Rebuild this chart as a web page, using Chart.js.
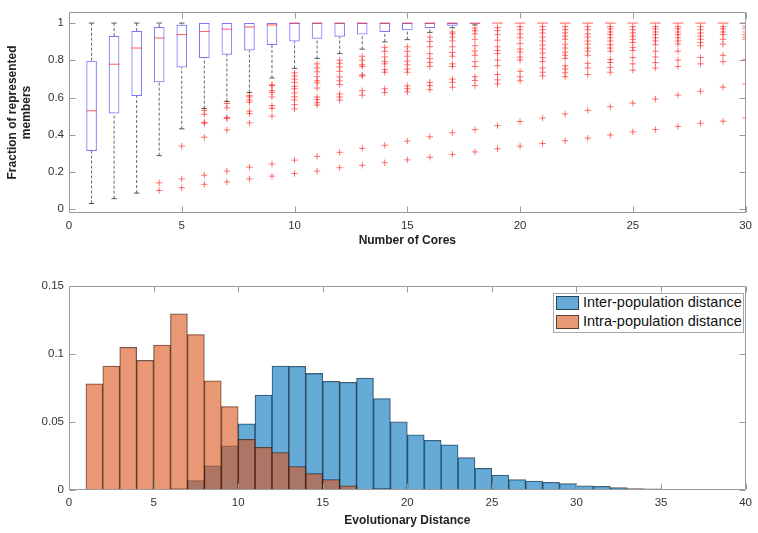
<!DOCTYPE html>
<html>
<head>
<meta charset="utf-8">
<script src="https://cdn.jsdelivr.net/npm/chart.js@4.4.1/dist/chart.umd.min.js"></script>
<style>
html,body{margin:0;padding:0;background:#fff;}
#wrap{position:relative;width:758px;height:533px;overflow:hidden;}
#c1{position:absolute;left:0;top:0;}
#c2{position:absolute;left:0;top:255px;}
#legend{position:absolute;left:553px;top:293px;width:189px;height:38px;border:1px solid #a8a8a8;background:#fff;
  font-family:"Liberation Sans",Arial,sans-serif;font-size:14.5px;color:#111;z-index:2;}
#legend .row{position:absolute;left:2px;height:15px;line-height:15px;white-space:nowrap;}
#legend .sw{position:absolute;left:0;top:0;width:23px;height:14px;border:1px solid rgba(0,0,0,0.6);box-sizing:border-box;}
#legend .tx{position:absolute;left:27px;top:-1px;}
</style>
</head>
<body>
<div id="wrap">
  <canvas id="c1" width="758" height="255"></canvas>
  <canvas id="c2" width="758" height="278"></canvas>
  <div id="legend">
    <div class="row" style="top:2px;"><span class="sw" style="background:rgb(102,170,215);"></span><span class="tx">Inter-population distance</span></div>
    <div class="row" style="top:21px;"><span class="sw" style="background:rgb(232,152,117);"></span><span class="tx">Intra-population distance</span></div>
  </div>
</div>
<script>
// ---------- Top panel: box plot data ----------
const cores = [1,2,3,4,5,6,7,8,9,10,11,12,13,14,15,16,17,18,19,20,21,22,23,24,25,26,27,28,29,30];
const q1 = [0.313,0.514,0.608,0.682,0.762,0.812,0.830,0.853,0.882,0.901,0.916,0.926,0.938,0.952,0.961,0.973,0.986,0.997,1,1,1,1,1,1,1,1,1,1,1,1];
const medians = [0.529,0.779,0.866,0.920,0.938,0.955,0.967,0.979,0.990,1,1,1,1,1,1,1,1,1,1,1,1,1,1,1,1,1,1,1,1,1];
const q3 = [0.798,0.930,0.957,0.979,0.991,1,1,1,1,1,1,1,1,1,1,1,1,1,1,1,1,1,1,1,1,1,1,1,1,1];
const whiskerLow = [0.031,0.057,0.087,0.288,0.432,0.541,0.579,0.627,0.705,0.757,0.810,0.836,0.860,0.899,0.911,0.950,0.975,0.990,1,1,1,1,1,1,1,1,1,1,1,1];
const whiskerHigh = [1,1,1,1,1,1,1,1,1,1,1,1,1,1,1,1,1,1,1,1,1,1,1,1,1,1,1,1,1,1];
const outliers = [
  [], [], [],
  [0.142,0.101],
  [0.339,0.163,0.116],
  [0.531,0.510,0.467,0.462,0.387,0.183,0.134],
  [0.568,0.545,0.493,0.488,0.426,0.205,0.147],
  [0.610,0.603,0.587,0.575,0.527,0.514,0.464,0.226,0.163],
  [0.668,0.664,0.637,0.628,0.603,0.556,0.541,0.500,0.243,0.178],
  [0.733,0.716,0.699,0.682,0.659,0.647,0.625,0.604,0.587,0.562,0.539,0.264,0.192],
  [0.781,0.759,0.738,0.712,0.690,0.678,0.651,0.603,0.589,0.572,0.560,0.284,0.205],
  [0.801,0.784,0.764,0.741,0.711,0.690,0.670,0.620,0.603,0.586,0.306,0.223],
  [0.822,0.801,0.776,0.767,0.721,0.716,0.637,0.613,0.327,0.236],
  [0.870,0.848,0.818,0.793,0.781,0.750,0.736,0.647,0.627,0.344,0.250],
  [0.873,0.848,0.822,0.796,0.776,0.753,0.736,0.663,0.647,0.630,0.366,0.265],
  [0.925,0.901,0.873,0.836,0.810,0.788,0.767,0.682,0.664,0.642,0.389,0.279],
  [0.952,0.942,0.925,0.904,0.873,0.842,0.822,0.781,0.767,0.699,0.682,0.656,0.411,0.295],
  [0.973,0.959,0.942,0.913,0.878,0.850,0.827,0.793,0.767,0.712,0.692,0.664,0.428,0.308],
  [0.976,0.959,0.938,0.908,0.873,0.853,0.836,0.801,0.771,0.724,0.695,0.673,0.449,0.325],
  [0.981,0.964,0.942,0.921,0.890,0.861,0.844,0.818,0.801,0.741,0.712,0.690,0.471,0.339],
  [0.981,0.964,0.947,0.925,0.904,0.882,0.861,0.839,0.815,0.793,0.759,0.736,0.716,0.490,0.353],
  [0.981,0.964,0.947,0.930,0.913,0.887,0.866,0.844,0.827,0.810,0.771,0.753,0.733,0.712,0.512,0.368],
  [0.981,0.964,0.942,0.925,0.904,0.887,0.866,0.849,0.827,0.784,0.759,0.724,0.531,0.382],
  [0.981,0.969,0.952,0.938,0.921,0.904,0.884,0.866,0.849,0.805,0.788,0.762,0.736,0.551,0.399],
  [0.981,0.964,0.947,0.930,0.913,0.896,0.870,0.853,0.815,0.781,0.747,0.570,0.416],
  [0.981,0.969,0.952,0.938,0.921,0.904,0.884,0.849,0.818,0.788,0.759,0.592,0.428],
  [0.981,0.969,0.952,0.938,0.921,0.904,0.887,0.849,0.801,0.767,0.613,0.445],
  [0.981,0.964,0.947,0.930,0.913,0.896,0.878,0.815,0.781,0.634,0.462],
  [0.981,0.969,0.952,0.938,0.913,0.887,0.827,0.793,0.656,0.473],
  [0.981,0.969,0.952,0.938,0.925,0.913,0.805,0.673,0.490]
];
const topXTicks = [0,5,10,15,20,25,30];
const topYTicks = [0,0.2,0.4,0.6,0.8,1];

// ---------- Bottom panel: histogram data (bins of width 1 starting at binStart) ----------
const binStart = [1,2,3,4,5,6,7,8,9,10,11,12,13,14,15,16,17,18,19,20,21,22,23,24,25,26,27,28,29,30,31,32,33,34,35,36,37];
const interPop = [null,null,null,null,0.0003,0.0010,0.0069,0.0177,0.0324,0.0487,0.0698,0.0912,0.0910,0.0857,0.0799,0.0791,0.0823,0.0673,0.0501,0.0405,0.0366,0.0332,0.0238,0.0160,0.0110,0.0076,0.0066,0.0057,0.0047,0.0030,0.0027,0.0017,0.0010,0.0009,0.0005,0.0004,0.0003];
const intraPop = [0.0781,0.0912,0.1049,0.0953,0.1066,0.1295,0.1143,0.0803,0.0614,0.0373,0.0314,0.0275,0.0172,0.0120,0.0076,0.0030,0.0003,0.0010,0.0002,0.0003,null,null,null,null,null,null,null,null,null,null,null,null,null,null,null,null,null];
const botXTicks = [0,5,10,15,20,25,30,35,40];
const botYTicks = [0,0.05,0.1,0.15];

Chart.defaults.font.family = '"Liberation Sans", Arial, sans-serif';
Chart.defaults.color = '#333';

const FRAME = '#9a9a9a';
const axesFrame = {
  id: 'axesFrame',
  afterDatasetsDraw(chart) {
    const {ctx, chartArea: a} = chart;
    const xs = chart.scales.x, ys = chart.scales.y;
    const L = Math.round(a.left) + 0.5, R = Math.round(a.right) - 0.5;
    const T = Math.round(a.top) + 0.5, B = Math.round(a.bottom) - 0.5;
    const tl = 6;
    ctx.save();
    ctx.strokeStyle = FRAME;
    ctx.lineWidth = 1;
    ctx.beginPath();
    ctx.moveTo(L, T); ctx.lineTo(R, T); ctx.lineTo(R, B); ctx.lineTo(L, B); ctx.closePath();
    xs.ticks.forEach(t => {
      const px = Math.round(xs.getPixelForValue(t.value)) + 0.5;
      ctx.moveTo(px, B); ctx.lineTo(px, B - tl);
      ctx.moveTo(px, T); ctx.lineTo(px, T + tl);
    });
    ys.ticks.forEach(t => {
      const py = Math.round(ys.getPixelForValue(t.value)) + 0.5;
      ctx.moveTo(L, py); ctx.lineTo(L + tl, py);
      ctx.moveTo(R, py); ctx.lineTo(R - tl, py);
    });
    ctx.stroke();
    ctx.restore();
  }
};

const fmt = v => String(+Number(v).toFixed(2));
const tickFont = {size: 11.5};
const titleFont = {size: 12, weight: 'bold'};

// ---------- Top chart ----------
const boxData = cores.map((c, i) => ({x: c, y: [q1[i], q3[i]]}));
const medData = cores.map((c, i) => ({x: c, y: medians[i]}));
const whiskerPts = [];
const capPts = [];
cores.forEach((c, i) => {
  if (whiskerHigh[i] > q3[i]) {
    whiskerPts.push({x: c, y: q3[i]}, {x: c, y: whiskerHigh[i]}, {x: c, y: null});
    capPts.push({x: c, y: whiskerHigh[i]});
  }
  if (whiskerLow[i] < q1[i]) {
    whiskerPts.push({x: c, y: whiskerLow[i]}, {x: c, y: q1[i]}, {x: c, y: null});
    capPts.push({x: c, y: whiskerLow[i]});
  }
});
const outPts = [];
cores.forEach((c, i) => outliers[i].forEach(v => outPts.push({x: c, y: v})));

new Chart(document.getElementById('c1'), {
  type: 'scatter',
  data: {
    datasets: [
      {type: 'scatter', data: outPts, pointStyle: 'cross', pointRadius: 3.2, borderWidth: 1,
       borderColor: 'rgba(255,0,0,0.55)', backgroundColor: 'rgba(255,0,0,0.55)', order: 0},
      {type: 'scatter', data: medData, pointStyle: 'line', pointRadius: 5.3, borderWidth: 1,
       borderColor: 'rgba(255,40,40,0.75)', order: 1},
      {type: 'scatter', data: capPts, pointStyle: 'line', pointRadius: 2.7, borderWidth: 1,
       borderColor: '#555', order: 2},
      {type: 'line', data: whiskerPts, spanGaps: false, borderColor: '#666', borderWidth: 1,
       borderDash: [3, 2], pointRadius: 0, fill: false, order: 3},
      {type: 'bar', data: boxData, backgroundColor: 'rgba(0,0,0,0)', borderColor: 'rgba(60,60,255,0.7)',
       borderWidth: 1, borderSkipped: false, barPercentage: 0.47, categoryPercentage: 1, grouped: false, order: 4}
    ]
  },
  options: {
    responsive: false,
    animation: false,
    events: [],
    layout: {padding: {left: 0, right: 8, top: 3, bottom: 0}},
    plugins: {legend: {display: false}, tooltip: {enabled: false}},
    scales: {
      x: {
        type: 'linear', min: 0, max: 30, offset: false,
        grid: {display: false, drawTicks: false}, border: {display: false},
        afterBuildTicks: s => { s.ticks = topXTicks.map(v => ({value: v})); },
        ticks: {font: tickFont, padding: 6, maxRotation: 0, callback: fmt},
        title: {display: true, text: 'Number of Cores', font: titleFont, color: '#222', padding: {top: 0, bottom: 7}},
        afterFit: s => { s.height = 42; }
      },
      y: {
        type: 'linear', min: -0.02, max: 1.06,
        grid: {display: false, drawTicks: false}, border: {display: false},
        afterBuildTicks: s => { s.ticks = topYTicks.map(v => ({value: v})); },
        ticks: {font: tickFont, padding: 5, callback: fmt},
        title: {display: true, text: ['Fraction of represented', 'members'], font: titleFont, color: '#222', padding: {top: 5, bottom: 0}},
        afterFit: s => { s.width = 69; }
      }
    }
  },
  plugins: [axesFrame]
});

// ---------- Bottom chart ----------
const interData = binStart.map((b, i) => ({x: b + 0.5, y: interPop[i]}));
const intraData = binStart.map((b, i) => ({x: b + 0.5, y: intraPop[i]}));

new Chart(document.getElementById('c2'), {
  type: 'bar',
  data: {
    datasets: [
      {label: 'Inter-population distance', data: interData, backgroundColor: 'rgba(0,114,189,0.6)',
       borderColor: 'rgba(0,0,0,0.65)', borderWidth: 0.6, borderSkipped: false,
       barPercentage: 1, categoryPercentage: 1, grouped: false, order: 1},
      {label: 'Intra-population distance', data: intraData, backgroundColor: 'rgba(217,83,25,0.6)',
       borderColor: 'rgba(0,0,0,0.65)', borderWidth: 0.6, borderSkipped: false,
       barPercentage: 1, categoryPercentage: 1, grouped: false, order: 0}
    ]
  },
  options: {
    responsive: false,
    animation: false,
    events: [],
    layout: {padding: {left: 0, right: 8, top: 31, bottom: 0}},
    plugins: {legend: {display: false}, tooltip: {enabled: false}},
    scales: {
      x: {
        type: 'linear', min: 0, max: 40, offset: false,
        grid: {display: false, drawTicks: false}, border: {display: false},
        afterBuildTicks: s => { s.ticks = botXTicks.map(v => ({value: v})); },
        ticks: {font: tickFont, padding: 6, maxRotation: 0, callback: fmt},
        title: {display: true, text: 'Evolutionary Distance', font: titleFont, color: '#222', padding: {top: 0, bottom: 5}},
        afterFit: s => { s.height = 43; }
      },
      y: {
        type: 'linear', min: 0, max: 0.15,
        grid: {display: false, drawTicks: false}, border: {display: false},
        afterBuildTicks: s => { s.ticks = botYTicks.map(v => ({value: v})); },
        ticks: {font: tickFont, padding: 5, callback: fmt},
        afterFit: s => { s.width = 69; }
      }
    }
  },
  plugins: [axesFrame]
});
</script>
</body>
</html>
